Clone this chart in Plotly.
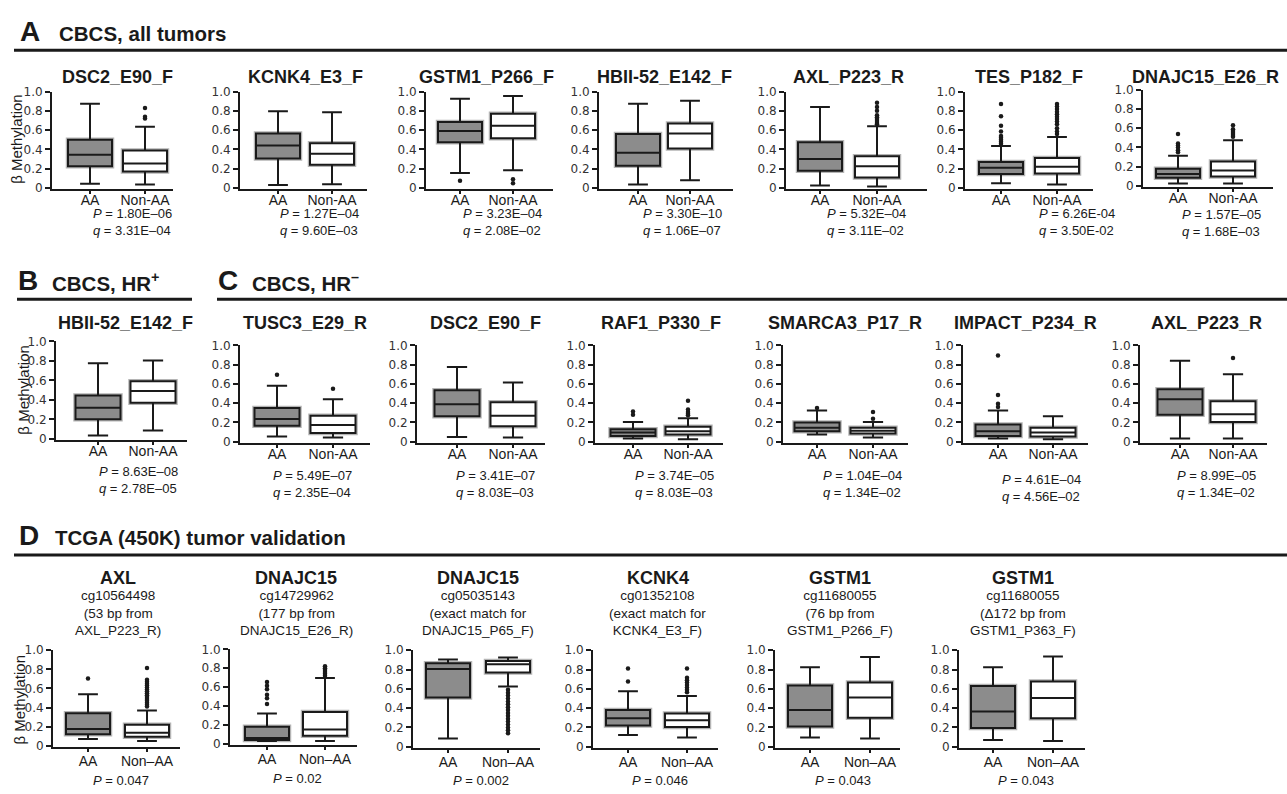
import plotly.graph_objects as go

W, H = 1287, 794

# ---------------- data ----------------
panel_titles = [
    "DSC2_E90_F", "KCNK4_E3_F", "GSTM1_P266_F", "HBII-52_E142_F", "AXL_P223_R", "TES_P182_F", "DNAJC15_E26_R",
    "HBII-52_E142_F",
    "TUSC3_E29_R", "DSC2_E90_F", "RAF1_P330_F", "SMARCA3_P17_R", "IMPACT_P234_R", "AXL_P223_R",
    "AXL", "DNAJC15", "DNAJC15", "KCNK4", "GSTM1", "GSTM1",
]
tcga_subtitles = [
    "cg10564498<br>(53 bp from<br>AXL_P223_R)",
    "cg14729962<br>(177 bp from<br>DNAJC15_E26_R)",
    "cg05035143<br>(exact match for<br>DNAJC15_P65_F)",
    "cg01352108<br>(exact match for<br>KCNK4_E3_F)",
    "cg11680055<br>(76 bp from<br>GSTM1_P266_F)",
    "cg11680055<br>(\u0394172 bp from<br>GSTM1_P363_F)",
]
groups_cbcs = ["AA", "Non-AA"]
groups_tcga = ["AA", "Non\u2013AA"]

# box statistics: [lower whisker, Q1, median, Q3, upper whisker]
aa_stats = [
    [0.045, 0.225, 0.345, 0.50, 0.875],
    [0.030, 0.305, 0.440, 0.565, 0.795],
    [0.155, 0.475, 0.590, 0.685, 0.925],
    [0.035, 0.230, 0.365, 0.560, 0.875],
    [0.025, 0.180, 0.300, 0.475, 0.840],
    [0.050, 0.145, 0.210, 0.270, 0.435],
    [0.025, 0.085, 0.125, 0.180, 0.315],
    [0.035, 0.200, 0.320, 0.445, 0.775],
    [0.055, 0.165, 0.235, 0.350, 0.580],
    [0.050, 0.265, 0.390, 0.535, 0.775],
    [0.035, 0.060, 0.095, 0.130, 0.205],
    [0.075, 0.110, 0.145, 0.200, 0.325],
    [0.035, 0.060, 0.110, 0.180, 0.325],
    [0.035, 0.280, 0.440, 0.545, 0.840],
    [0.070, 0.120, 0.175, 0.340, 0.540],
    [0.030, 0.040, 0.060, 0.180, 0.320],
    [0.085, 0.510, 0.805, 0.865, 0.905],
    [0.120, 0.220, 0.295, 0.380, 0.575],
    [0.095, 0.210, 0.380, 0.635, 0.825],
    [0.070, 0.195, 0.365, 0.630, 0.825],
]
nonaa_stats = [
    [0.035, 0.170, 0.255, 0.390, 0.635],
    [0.040, 0.240, 0.355, 0.465, 0.785],
    [0.185, 0.515, 0.645, 0.770, 0.955],
    [0.080, 0.410, 0.565, 0.670, 0.905],
    [0.015, 0.110, 0.225, 0.330, 0.640],
    [0.035, 0.150, 0.220, 0.310, 0.530],
    [0.025, 0.100, 0.160, 0.255, 0.475],
    [0.085, 0.370, 0.490, 0.590, 0.805],
    [0.045, 0.090, 0.175, 0.270, 0.440],
    [0.045, 0.160, 0.270, 0.410, 0.615],
    [0.025, 0.075, 0.110, 0.155, 0.245],
    [0.045, 0.085, 0.115, 0.145, 0.205],
    [0.025, 0.055, 0.095, 0.145, 0.265],
    [0.035, 0.205, 0.285, 0.420, 0.700],
    [0.050, 0.095, 0.135, 0.220, 0.370],
    [0.030, 0.085, 0.150, 0.335, 0.695],
    [0.625, 0.770, 0.855, 0.890, 0.925],
    [0.095, 0.205, 0.275, 0.345, 0.525],
    [0.085, 0.300, 0.510, 0.665, 0.930],
    [0.060, 0.295, 0.505, 0.675, 0.935],
]
aa_outliers = [
    [], [], [0.075], [], [],
    [0.87, 0.745, 0.645, 0.585, 0.54, 0.52, 0.50, 0.48, 0.46],
    [0.54, 0.44, 0.42, 0.40, 0.37, 0.35],
    [],
    [0.695], [], [0.315, 0.28], [0.35], [0.895, 0.485, 0.395, 0.36], [],
    [0.705], [0.655, 0.614, 0.576, 0.52, 0.483, 0.42], [], [0.81, 0.675], [], [],
]
nonaa_outliers = [
    [0.83, 0.74, 0.72], [], [0.09, 0.05], [],
    [0.885, 0.84, 0.80, 0.755, 0.735, 0.715, 0.695, 0.675, 0.66],
    [0.87, 0.845, 0.82, 0.79, 0.765, 0.74, 0.715, 0.69, 0.66, 0.62, 0.585, 0.56],
    [0.63, 0.59, 0.57, 0.55, 0.53, 0.51],
    [],
    [0.55], [], [0.425, 0.335, 0.31, 0.29, 0.275], [0.31, 0.24], [], [0.87],
    [0.815, 0.69, 0.67, 0.65, 0.63, 0.61, 0.59, 0.57, 0.55, 0.53, 0.51, 0.49, 0.47, 0.45, 0.43, 0.41],
    [0.82, 0.80, 0.78, 0.76, 0.74, 0.72],
    [0.59, 0.56, 0.53, 0.50, 0.47, 0.44, 0.41, 0.38, 0.35, 0.32, 0.29, 0.26, 0.23, 0.20, 0.17, 0.14],
    [0.81, 0.715, 0.69, 0.665, 0.64, 0.615, 0.59, 0.565],
    [], [],
]
p_values = [
    "1.80E\u201306", "1.27E\u201304", "3.23E\u201304", "3.30E\u201310", "5.32E\u201304", "6.26E-04", "1.57E\u201305",
    "8.63E\u201308",
    "5.49E\u201307", "3.41E\u201307", "3.74E\u201305", "1.04E\u201304", "4.61E\u201304", "8.99E\u201305",
    "0.047", "0.02", "0.002", "0.046", "0.043", "0.043",
]
q_values = [
    "3.31E\u201304", "9.60E\u201303", "2.08E\u201302", "1.06E\u201307", "3.11E\u201302", "3.50E-02", "1.68E\u201303",
    "2.78E\u201305",
    "2.35E\u201304", "8.03E\u201303", "8.03E\u201303", "1.34E\u201302", "4.56E\u201302", "1.34E\u201302",
    None, None, None, None, None, None,
]
y_ticks = [0, 0.2, 0.4, 0.6, 0.8, 1.0]
y_ticktext = ["0", "0.2", "0.4", "0.6", "0.8", "1.0"]

# ---------------- layout (pixel geometry) ----------------
# (axis left, AA centre, Non-AA centre, axis right, y of 1.0, y of 0)
panel_px = [
    (52, 90, 145, 173, 86, 184), (240, 278, 332, 367, 86, 184), (426, 460, 513, 553, 86, 184),
    (599, 638, 690, 733, 86, 184), (786, 820, 877, 927, 86, 184), (965, 1001, 1057, 1093, 86, 184),
    (1143, 1178, 1233, 1273, 84, 182),
    (56, 98, 153, 187, 340, 439),
    (240, 277, 333, 370, 344, 442), (417, 457, 513, 545, 344, 442), (595, 633, 688, 723, 344, 442),
    (783, 817, 873, 908, 344, 442), (963, 998, 1053, 1088, 344, 442), (1140, 1180, 1233, 1267, 344, 442),
    (53, 88, 147, 180, 654, 751), (230, 267, 325, 357, 653, 749), (413, 448, 508, 540, 654, 752),
    (593, 628, 687, 718, 654, 752), (775, 810, 870, 900, 654, 752), (959, 993, 1053, 1085, 654, 752),
]
box_px = [44] * 7 + [45] * 7 + [44] * 6
title_y_px = [71] * 7 + [321] * 7 + [580] * 6
label_standoff = [-6] * 14 + [-3] * 6
# centre x and top y of the P/q text block
stat_pos = [
    (132, 200), (319, 200), (502, 200), (682, 200), (867, 200), (1077, 200), (1221, 201),
    (138, 463),
    (312, 467), (495, 467), (674, 467), (862, 467), (1041, 471), (1216, 467),
    (121, 777), (297, 775), (481, 777), (660, 777), (843, 777), (1026, 777),
]

FONT = "Liberation Sans, Arial, Helvetica, sans-serif"
INK = "#1a1a1a"
AA_FILL = "#8c8c8c"
NA_FILL = "#ffffff"
HALO = "#b4b4b4"


def fx(px):
    return px / W


def fy(py):
    return 1 - py / H


fig = go.Figure()
annotations = []
shapes = []
layout_axes = {}

for i in range(20):
    L, ca, cn, R, y1, y0 = panel_px[i]
    n = i + 1
    sfx = "" if n == 1 else str(n)
    xa, ya = "x" + sfx, "y" + sfx
    unit = cn - ca
    ybot = -0.015
    dom_bot = y0 - ybot * (y0 - y1)
    labels = groups_tcga if i >= 14 else groups_cbcs
    layout_axes["xaxis" + sfx] = dict(
        domain=[fx(L), fx(R)], range=[(L - ca) / unit, (R - ca) / unit], anchor=ya, type="linear",
        tickvals=[0, 1], ticktext=labels, showline=True, linecolor=INK, linewidth=2,
        ticks="outside", ticklen=3, tickwidth=1.5, tickcolor=INK, showgrid=False, zeroline=False,
        ticklabelstandoff=label_standoff[i],
        tickfont=dict(family=FONT, size=14, color=INK), fixedrange=True,
    )
    layout_axes["yaxis" + sfx] = dict(
        domain=[fy(dom_bot), fy(y1)], range=[ybot, 1.0], anchor=xa,
        tickvals=y_ticks, ticktext=y_ticktext, showline=True, linecolor=INK, linewidth=2,
        ticks="outside", ticklen=5, tickwidth=1.5, tickcolor=INK, showgrid=False, zeroline=False,
        tickfont=dict(family="DejaVu Sans, sans-serif", size=12, color="#333333"), fixedrange=True,
    )
    bw = box_px[i] / unit
    for k, (stats, fill, outs) in enumerate([(aa_stats[i], AA_FILL, aa_outliers[i]),
                                             (nonaa_stats[i], NA_FILL, nonaa_outliers[i])]):
        lo, q1, med, q3, hi = stats
        fig.add_trace(go.Box(
            x=[k], q1=[q1], median=[q1], q3=[q3], lowerfence=[q1], upperfence=[q3],
            orientation="v", width=bw, fillcolor=fill, line=dict(color=HALO, width=4.5),
            whiskerwidth=0, boxpoints=False, xaxis=xa, yaxis=ya, showlegend=False, hoverinfo="skip",
        ))
        fig.add_trace(go.Box(
            x=[k], q1=[q1], median=[med], q3=[q3], lowerfence=[lo], upperfence=[hi],
            orientation="v", width=bw, fillcolor=fill, line=dict(color=INK, width=2),
            whiskerwidth=0.45, boxpoints=False, xaxis=xa, yaxis=ya, showlegend=False,
        ))
        if outs:
            fig.add_trace(go.Scatter(
                x=[k] * len(outs), y=outs, mode="markers", xaxis=xa, yaxis=ya, showlegend=False,
                marker=dict(color=INK, size=4.5, line=dict(width=0)),
            ))

    # panel title
    annotations.append(dict(
        x=fx((ca + cn) / 2), y=fy(title_y_px[i]), xref="paper", yref="paper", showarrow=False,
        text="<b>%s</b>" % panel_titles[i], font=dict(family=FONT, size=18, color=INK),
        xanchor="center", yanchor="middle",
    ))
    if i >= 14:
        annotations.append(dict(
            x=fx((ca + cn) / 2), y=fy(589), xref="paper", yref="paper", showarrow=False,
            text=tcga_subtitles[i - 14], font=dict(family=FONT, size=13.5, color=INK),
            xanchor="center", yanchor="top", align="center",
        ))
    # statistics text
    sx, sy = stat_pos[i]
    txt = "<i>P</i> = %s" % p_values[i]
    if q_values[i] is not None:
        txt += "<br><i>q</i> = %s" % q_values[i]
    annotations.append(dict(
        x=fx(sx), y=fy(sy), xref="paper", yref="paper", showarrow=False, text=txt,
        font=dict(family=FONT, size=13, color=INK), xanchor="center", yanchor="top", align="left",
    ))

# y-axis titles
for (xp, yp) in [(17, 134), (24, 389), (19, 704)]:
    annotations.append(dict(
        x=fx(xp), y=fy(yp), xref="paper", yref="paper", showarrow=False, text="\u03b2 Methylation",
        textangle=-90, font=dict(family=FONT, size=15, color=INK), xanchor="center", yanchor="middle",
    ))

# section headers
sections = [
    ("A", "CBCS, all tumors", 18, 57, 26, 44, 14, 1287),
    ("B", "CBCS, HR<sup>+</sup>", 16, 50, 279, 297, 17, 192),
    ("C", "CBCS, HR<sup>\u2013</sup>", 216, 250, 279, 297, 217, 1287),
    ("D", "TCGA (450K) tumor validation", 17, 53, 538, 557, 14, 1287),
]
for letter, name, lx, nx, yc, ly, lx0, lx1 in sections:
    annotations.append(dict(
        x=fx(lx), y=fy(yc - 1), xref="paper", yref="paper", showarrow=False, text="<b>%s</b>" % letter,
        font=dict(family=FONT, size=28, color=INK), xanchor="left", yanchor="middle",
    ))
    annotations.append(dict(
        x=fx(nx), y=fy(yc + 1), xref="paper", yref="paper", showarrow=False, text="<b>%s</b>" % name,
        font=dict(family=FONT, size=20.5, color=INK), xanchor="left", yanchor="middle",
    ))
    shapes.append(dict(type="line", xref="paper", yref="paper", x0=fx(lx0), x1=fx(lx1),
                       y0=fy(ly), y1=fy(ly), line=dict(color=INK, width=3)))

fig.update_layout(
    width=W, height=H, margin=dict(l=0, r=0, t=0, b=0), paper_bgcolor="white", plot_bgcolor="white",
    boxmode="overlay", showlegend=False, annotations=annotations, shapes=shapes,
    font=dict(family=FONT, color=INK), **layout_axes,
)

fig.write_html("out.html", config={"displayModeBar": False},
               post_script="document.body.style.margin='0px';")
